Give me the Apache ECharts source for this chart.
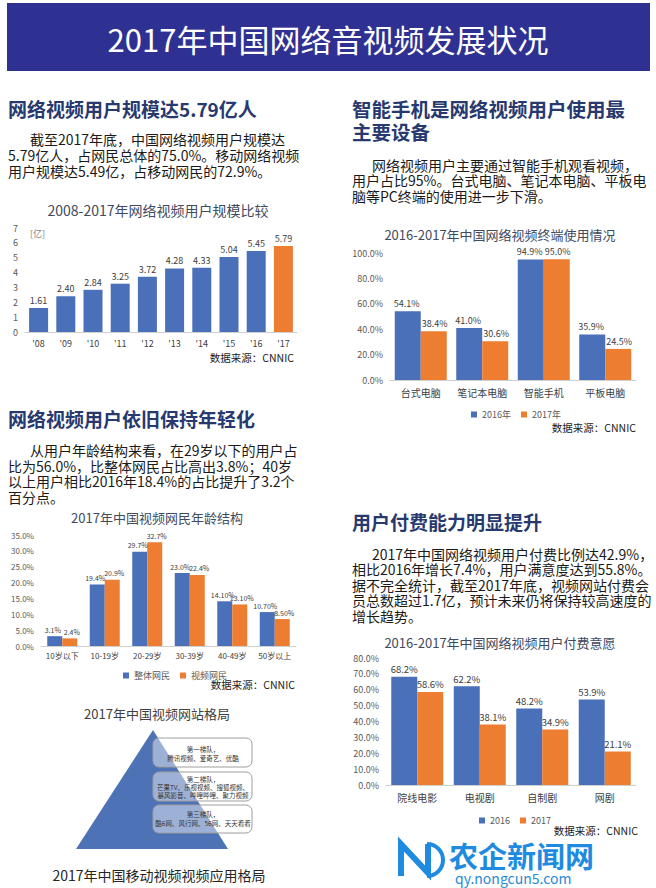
<!DOCTYPE html>
<html><head><meta charset="utf-8">
<script src="https://cdn.jsdelivr.net/npm/echarts@6/dist/echarts.min.js"></script>
<style>html,body{margin:0;padding:0;background:#fff}#c{width:656px;height:888px}</style>
</head><body><div id="c"></div>
<script>
const FONT = '"Noto Sans CJK SC","Noto Sans",sans-serif';
const BLUE = '#4a70b9', ORANGE = '#ed7d31';

// ---- data ----
const yearCats = ["'08","'09","'10","'11","'12","'13","'14","'15","'16","'17"];
const userScale = [1.61, 2.40, 2.84, 3.25, 3.72, 4.28, 4.33, 5.04, 5.45, 5.79];
const userScaleLabels = ['1.61','2.40','2.84','3.25','3.72','4.28','4.33','5.04','5.45','5.79'];

const deviceCats = ['台式电脑', '笔记本电脑', '智能手机', '平板电脑'];
const device2016 = [54.1, 41.0, 94.9, 35.9];
const device2017 = [38.4, 30.6, 95.0, 24.5];

const ageCats = ['10岁以下', '10-19岁', '20-29岁', '30-39岁', '40-49岁', '50岁以上'];
const ageAll = [3.1, 19.4, 29.7, 23.0, 14.1, 10.7];
const ageVideo = [2.4, 20.9, 32.7, 22.4, 13.1, 8.5];
const ageAllLabels = ['3.1%', '19.4%', '29.7%', '23.0%', '14.10%', '10.70%'];
const ageVideoLabels = ['2.4%', '20.9%', '32.7%', '22.4%', '13.10%', '8.50%'];

const payCats = ['院线电影', '电视剧', '自制剧', '网剧'];
const pay2016 = [68.2, 62.2, 48.2, 53.9];
const pay2017 = [58.6, 38.1, 34.9, 21.1];

// ---- helpers ----
const pct = v => v.toFixed(1) + '%';
function txt(x, y, s, fs, opt) {
  opt = opt || {};
  return { type: 'text', x: x, y: y, silent: true,
    style: { text: s, fontSize: fs, fontFamily: FONT, fill: opt.fill || '#1a1a1a',
      fontWeight: opt.bold ? 'bold' : 'normal', align: opt.align || 'left', verticalAlign: 'middle' } };
}
function para(x, indentX, y0, lh, lines, fs) {
  return lines.map((s, i) => txt(i === 0 ? indentX : x, y0 + i * lh, s, fs));
}
function catAxis(gi, cats, fs, margin) {
  return { type: 'category', gridIndex: gi, data: cats,
    axisLine: { lineStyle: { color: '#d0d0d0' } }, axisTick: { show: false },
    axisLabel: { fontSize: fs, color: '#404040', fontFamily: FONT, margin: margin, interval: 0 } };
}
function valAxis(gi, max, interval, fmt, fs) {
  return { type: 'value', gridIndex: gi, min: 0, max: max, interval: interval,
    axisLine: { show: false }, axisTick: { show: false }, splitLine: { show: false },
    axisLabel: { fontSize: fs, color: '#595959', fontFamily: FONT, margin: 7, formatter: fmt } };
}
function bar(name, xi, data, color, width, fs, fmt, dx) {
  return { type: 'bar', name: name, xAxisIndex: xi, yAxisIndex: xi, data: data, barWidth: width, barGap: '0%',
    itemStyle: { color: color },
    label: { show: true, position: 'top', distance: 3, offset: [dx || 0, 0], fontSize: fs, color: '#404040', fontFamily: FONT, formatter: fmt } };
}
function legend(names, x, y) {
  return { data: names, left: x, top: y, itemWidth: 6, itemHeight: 6, itemGap: 10, icon: 'rect',
    textStyle: { fontSize: 9, color: '#595959', fontFamily: FONT }, selectedMode: false };
}

const chart = echarts.init(document.getElementById('c'), null, { renderer: 'svg' });

const scaleData = userScale.map((v, i) => i === userScale.length - 1 ? { value: v, itemStyle: { color: ORANGE } } : v);

const graphics = [
  { type: 'rect', shape: { x: 7, y: 3, width: 643, height: 68 }, style: { fill: '#2f3192' }, silent: true },
  txt(328, 38, '2017年中国网络音视频发展状况', 31, { fill: '#ffffff', align: 'center' }),

  txt(8, 108, '网络视频用户规模达5.79亿人', 19, { bold: true, fill: '#27396f' }),
  ...para(8, 30, 138.5, 16, ['截至2017年底，中国网络视频用户规模达', '5.79亿人，占网民总体的75.0%。移动网络视频', '用户规模达5.49亿，占移动网民的72.9%。'], 14),
  txt(158, 210, '2008-2017年网络视频用户规模比较', 14, { fill: '#404a60', align: 'center' }),
  txt(30, 233, '[亿]', 9, { fill: '#7f7f7f' }),
  txt(294, 357, '数据来源：CNNIC', 10.5, { fill: '#222', align: 'right' }),

  txt(352, 108.5, '智能手机是网络视频用户使用最', 19.5, { bold: true, fill: '#27396f' }),
  txt(352, 131, '主要设备', 19.5, { bold: true, fill: '#27396f' }),
  ...para(352, 372, 164.5, 15.5, ['网络视频用户主要通过智能手机观看视频，', '用户占比95%。台式电脑、笔记本电脑、平板电', '脑等PC终端的使用进一步下滑。'], 14),
  txt(500, 234, '2016-2017年中国网络视频终端使用情况', 13, { fill: '#404a60', align: 'center' }),
  txt(636, 427, '数据来源：CNNIC', 10.5, { fill: '#222', align: 'right' }),

  txt(8, 418, '网络视频用户依旧保持年轻化', 19, { bold: true, fill: '#27396f' }),
  ...para(8, 30, 450, 15.6, ['从用户年龄结构来看，在29岁以下的用户占', '比为56.0%，比整体网民占比高出3.8%；40岁', '以上用户相比2016年18.4%的占比提升了3.2个', '百分点。'], 14),
  txt(157, 517, '2017年中国视频网民年龄结构', 13, { fill: '#404a60', align: 'center' }),
  txt(295, 684, '数据来源：CNNIC', 10.5, { fill: '#222', align: 'right' }),

  txt(352, 521, '用户付费能力明显提升', 19, { bold: true, fill: '#27396f' }),
  ...para(352, 372, 553.5, 15.6, ['2017年中国网络视频用户付费比例达42.9%，', '相比2016年增长7.4%，用户满意度达到55.8%。', '据不完全统计，截至2017年底，视频网站付费会', '员总数超过1.7亿，预计未来仍将保持较高速度的', '增长趋势。'], 14),
  txt(500, 642, '2016-2017年中国网络视频用户付费意愿', 13, { fill: '#404a60', align: 'center' }),
  txt(638, 830, '数据来源：CNNIC', 10.5, { fill: '#222', align: 'right' }),

  // pyramid
  txt(157, 713, '2017年中国视频网站格局', 13, { fill: '#404040', align: 'center' }),
  { type: 'polygon', shape: { points: [[153, 730], [76, 849], [228, 849]] }, style: { fill: '#4d72b6' }, silent: true },
  { type: 'rect', shape: { x: 153, y: 738, width: 99, height: 29, r: 6 }, style: { fill: 'rgba(255,255,255,0.45)', stroke: '#9e9e9e', lineWidth: 1 }, silent: true },
  { type: 'rect', shape: { x: 153, y: 772, width: 99, height: 29, r: 6 }, style: { fill: 'rgba(255,255,255,0.45)', stroke: '#9e9e9e', lineWidth: 1 }, silent: true },
  { type: 'rect', shape: { x: 153, y: 805, width: 99, height: 28, r: 6 }, style: { fill: 'rgba(255,255,255,0.45)', stroke: '#9e9e9e', lineWidth: 1 }, silent: true },
  txt(203, 749, '第一梯队，', 6.5, { fill: '#333', align: 'center' }),
  txt(203, 758, '腾讯视频、爱奇艺、优酷', 6.5, { fill: '#333', align: 'center' }),
  txt(203, 779, '第二梯队，', 6.5, { fill: '#333', align: 'center' }),
  txt(203, 787, '芒果TV、乐视视频、搜狐视频、', 6.5, { fill: '#333', align: 'center' }),
  txt(203, 795, '暴风影音、哔哩哔哩、聚力视频', 6.5, { fill: '#333', align: 'center' }),
  txt(203, 814, '第三梯队，', 6.5, { fill: '#333', align: 'center' }),
  txt(203, 823, '酷6网、风行网、56网、天天看看', 6.5, { fill: '#333', align: 'center' }),
  txt(159, 875, '2017年中国移动视频视频应用格局', 14, { fill: '#262626', align: 'center' }),

  // watermark
  { type: 'polyline', shape: { points: [[401, 876], [401, 844], [428, 873], [428, 844]] }, style: { stroke: '#1e8be0', lineWidth: 6, fill: null }, silent: true },
  { type: 'arc', shape: { cx: 427, cy: 860, r: 16, startAngle: -Math.PI / 2, endAngle: Math.PI / 2 }, style: { stroke: '#1e8be0', lineWidth: 4, fill: null }, silent: true },
  txt(449, 855, '农企新闻网', 29, { bold: true, fill: '#1e8be0' }),
  txt(455, 878, 'qy.nongcun5.com', 14, { fill: '#2a8ad6' })
];

chart.setOption({
  animation: false,
  backgroundColor: '#ffffff',
  textStyle: { fontFamily: FONT },
  grid: [
    { left: 25, top: 228, width: 272, height: 104 },
    { left: 390, top: 253, width: 246, height: 127 },
    { left: 41, top: 535, width: 255, height: 111 },
    { left: 386, top: 658, width: 250, height: 127 }
  ],
  xAxis: [
    catAxis(0, yearCats, 9, 7),
    catAxis(1, deviceCats, 10, 7),
    catAxis(2, ageCats, 8, 5),
    catAxis(3, payCats, 10, 7)
  ],
  yAxis: [
    valAxis(0, 7, 1, v => String(v), 9),
    valAxis(1, 100, 20, pct, 9),
    valAxis(2, 35, 5, pct, 8),
    valAxis(3, 80, 10, pct, 9)
  ],
  legend: [
    legend(['2016年', '2017年'], 466, 405),
    legend(['整体网民', '视频网民'], 118, 666),
    legend(['2016', '2017'], 474, 811)
  ],
  series: [
    bar('规模', 0, scaleData, BLUE, 19, 9, p => userScaleLabels[p.dataIndex]),
    bar('2016年', 1, device2016, BLUE, 26, 9, p => pct(p.value), -1),
    bar('2017年', 1, device2017, ORANGE, 26, 9, p => pct(p.value), 1),
    bar('整体网民', 2, ageAll, BLUE, 15, 7, p => ageAllLabels[p.dataIndex], -2),
    bar('视频网民', 2, ageVideo, ORANGE, 15, 7, p => ageVideoLabels[p.dataIndex], 2),
    bar('2016', 3, pay2016, BLUE, 26, 9.5, p => pct(p.value)),
    bar('2017', 3, pay2017, ORANGE, 26, 9.5, p => pct(p.value))
  ],
  graphic: { elements: graphics }
});
</script></body></html>
